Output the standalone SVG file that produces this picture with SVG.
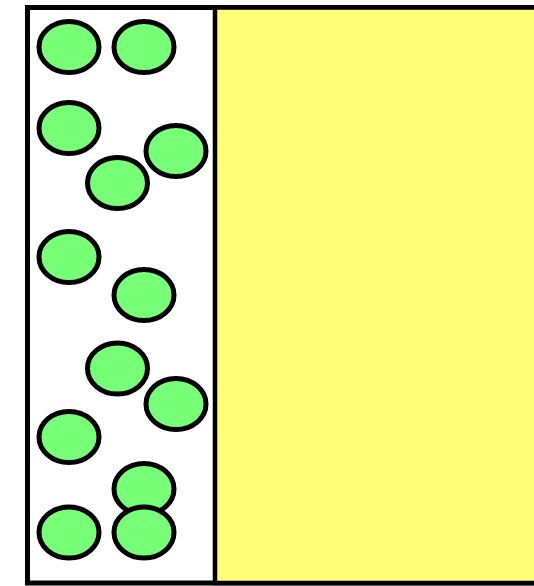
<svg xmlns="http://www.w3.org/2000/svg" width="534" height="586" viewBox="0 0 534 586">
<style>
.p{stroke:#000;stroke-width:5}
.c{fill:#77ff77;stroke:#000;stroke-width:5}
</style>
<rect width="534" height="586" fill="#fff"/>
<g id="container">
<rect class="p" x="27.5" y="7.5" width="560" height="575.5" fill="#fff"/>
<rect id="yellow" x="215" y="7.5" width="370" height="575.5" fill="#ffff77" stroke="#000" stroke-width="4.5"/>
</g>
<g id="particles">
<ellipse class="c" cx="69" cy="47" rx="30" ry="25.5"/>
<ellipse class="c" cx="144" cy="47" rx="30" ry="25.5"/>
<ellipse class="c" cx="69" cy="128" rx="30" ry="25.5"/>
<ellipse class="c" cx="176" cy="151" rx="30" ry="25.5"/>
<ellipse class="c" cx="117.5" cy="183" rx="30" ry="25.5"/>
<ellipse class="c" cx="69" cy="257" rx="30" ry="25.5"/>
<ellipse class="c" cx="144" cy="295" rx="30" ry="25.5"/>
<ellipse class="c" cx="117.5" cy="368.5" rx="30" ry="25.5"/>
<ellipse class="c" cx="176" cy="404" rx="30" ry="25.5"/>
<ellipse class="c" cx="69" cy="437" rx="30" ry="25.5"/>
<ellipse class="c" cx="144" cy="489" rx="30" ry="25.5"/>
<ellipse class="c" cx="69" cy="532.5" rx="30" ry="25.5"/>
<ellipse class="c" cx="144" cy="532.5" rx="30" ry="25.5"/>
</g>
</svg>
